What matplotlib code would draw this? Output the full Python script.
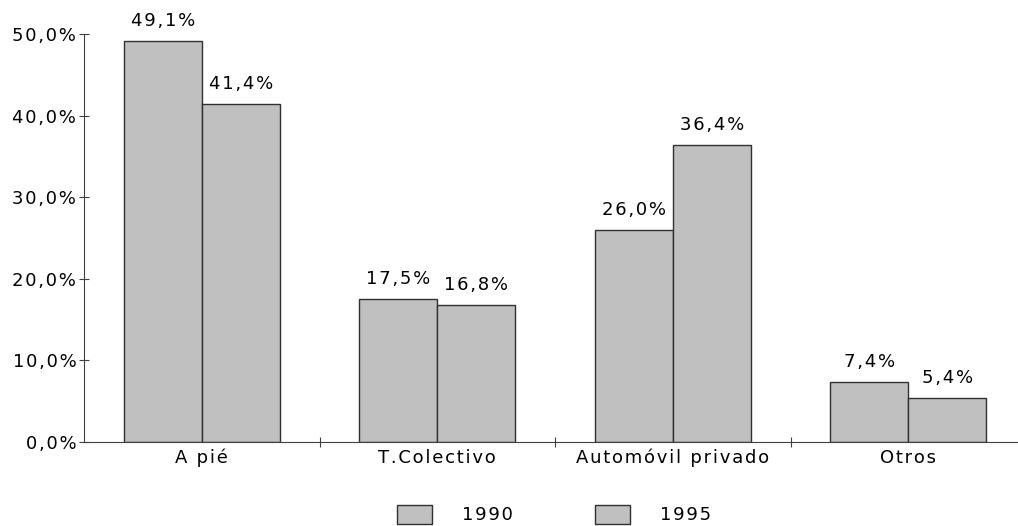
import matplotlib.pyplot as plt
import matplotlib.ticker as mticker
import numpy as np

categories = ["A pié", "T.Colectivo", "Automóvil privado", "Otros"]
years = ["1990", "1995"]
vals_1990 = [49.1, 17.5, 26.0, 7.4]
vals_1995 = [41.4, 16.8, 36.4, 5.4]

plt.rcParams['font.family'] = ['DejaVu Sans']
fs = 13


def spaced(s):
    # wide letter spacing like the original
    return '\u200a'.join(s)


def pct(v):
    return spaced(f"{v:.1f}%".replace('.', ','))


fig = plt.figure(figsize=(10.18, 5.26), dpi=100)
ax = fig.add_axes([84/1018, 1-442/526, 942/1018, 408/526])

x = np.arange(len(categories)) + 0.5
w = 0.331
b1 = ax.bar(x - w/2, vals_1990, w, color='#c0c0c0', edgecolor='#303030', linewidth=1, label=years[0])
b2 = ax.bar(x + w/2, vals_1995, w, color='#c0c0c0', edgecolor='#303030', linewidth=1, label=years[1])

for bars, vals in ((b1, vals_1990), (b2, vals_1995)):
    for r, v in zip(bars, vals):
        ax.text(r.get_x() + r.get_width()/2, v + 1.35, pct(v),
                ha='center', va='bottom', fontsize=fs, color='black')

ax.set_xlim(0, 4)
ax.set_ylim(0, 50)
ax.set_yticks(np.arange(0, 51, 10))
ax.yaxis.set_major_formatter(mticker.FuncFormatter(lambda v, p: pct(v)))
ax.set_xticks([1, 2, 3])
ax.set_xticklabels([])
ax.set_xticks(x, minor=True)
ax.set_xticklabels([spaced(c) for c in categories], minor=True)
ax.tick_params(axis='x', which='minor', length=0, labelsize=fs, pad=5)
ax.tick_params(axis='x', which='major', direction='inout', length=7, color='#404040')
ax.tick_params(axis='y', direction='inout', length=7, color='#404040', labelsize=fs, pad=2)

for s in ('top', 'right'):
    ax.spines[s].set_visible(False)
for s in ('left', 'bottom'):
    ax.spines[s].set_color('#404040')

fig.legend(handles=[b1, b2], labels=[spaced(y) for y in years], loc='upper left',
           bbox_to_anchor=(397/1018, 1-505/526), ncol=2, frameon=False,
           fontsize=fs, borderpad=0, borderaxespad=0,
           handlelength=1.95, handleheight=1.2, handletextpad=1.65, columnspacing=4.55)

fig.savefig('out.png', dpi=100)
